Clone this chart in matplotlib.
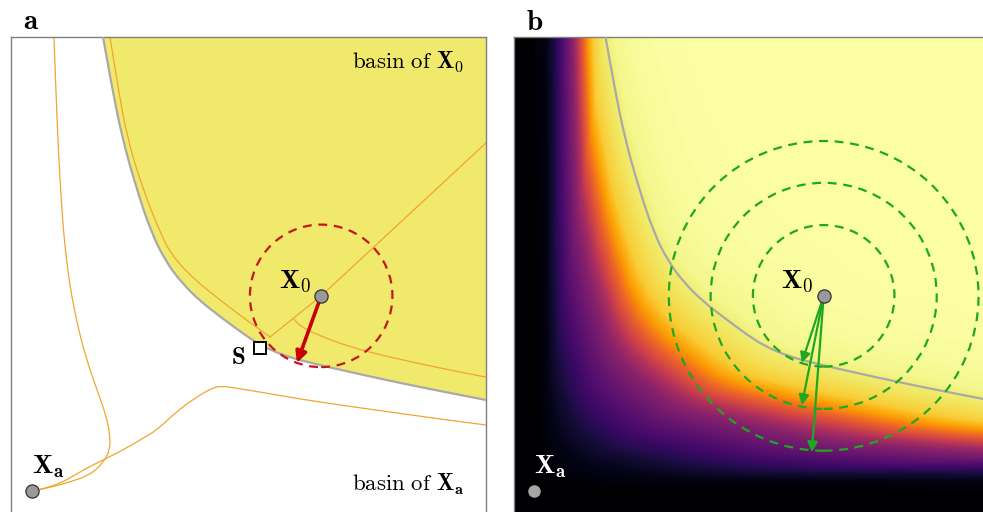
"""Basin of X0 (a) and stability landscape (b)."""
import numpy as np
import matplotlib
matplotlib.use("Agg")
import matplotlib.pyplot as plt
from matplotlib.path import Path
from matplotlib.patches import PathPatch, Circle

plt.rcParams["mathtext.fontset"] = "cm"
plt.rcParams["font.family"] = "serif"
plt.rcParams["font.serif"] = ["cmr10", "DejaVu Serif"]
plt.rcParams["axes.unicode_minus"] = False

# Attractors, saddle (phase-space units, box is 0..10).
x0 = (6.53, 4.55)
xa = (0.442, 0.442)
saddle = (5.24, 3.45)

# Basin boundary of X0 (gray curve), top edge -> right edge.
boundary_x = [1.937, 2.126, 2.337, 2.632, 2.947, 3.263, 3.6, 3.979, 4.442,
              4.926, 5.284, 5.768, 6.4, 7.137, 8.189, 9.137, 10.0]
boundary_y = [10.0, 8.947, 7.895, 6.842, 5.895, 5.263, 4.821, 4.442, 4.084,
              3.726, 3.495, 3.284, 3.116, 2.947, 2.716, 2.526, 2.358]
# Boundary continued outside the box (guessed), used for panel b.
ext_top_x = [1.85, 1.79, 1.75, 1.64]
ext_top_y = [12.02, 14.13, 17.28, 63.6]
ext_right_x = [10.97, 12.23, 14.13, 17.28, 63.6]
ext_right_y = [2.20, 2.06, 1.90, 1.72, 1.45]

# Trajectories (orange).
traj_top_x = [2.084, 2.253, 2.442, 2.758, 3.179, 3.389, 3.663, 3.979, 4.4,
              4.926, 5.284, 5.453]
traj_top_y = [10.0, 8.947, 7.895, 6.842, 5.789, 5.411, 5.095, 4.8, 4.463,
              4.063, 3.811, 3.684]
traj_diag_x = [10.0, 6.53, 5.453]
traj_diag_y = [7.77, 4.55, 3.684]
traj_right_x = [10.0, 9.03, 7.98, 7.14, 6.40, 6.08, 5.96]
traj_right_y = [2.84, 3.03, 3.26, 3.47, 3.75, 3.92, 4.06]
traj_left_x = [0.905, 0.968, 1.053, 1.158, 1.326, 1.558, 1.811, 2.0, 2.084,
               2.084, 1.937, 1.663, 1.179, 0.674, 0.442]
traj_left_y = [10.0, 8.25, 6.57, 5.31, 4.25, 3.305, 2.568, 2.042, 1.621,
               1.305, 1.032, 0.779, 0.611, 0.484, 0.442]
traj_low_x = [10.0, 9.032, 7.979, 6.926, 6.084, 5.242, 4.716, 4.442, 4.232,
              3.874, 3.474, 3.074, 2.716, 2.358, 1.937, 1.516, 1.179, 0.821,
              0.442]
traj_low_y = [1.832, 1.958, 2.105, 2.253, 2.379, 2.526, 2.611, 2.653, 2.611,
              2.4, 2.105, 1.726, 1.516, 1.305, 1.095, 0.884, 0.674, 0.526,
              0.442]

# Perturbations.
red_radius = 1.5
red_tip = (6.02, 3.14)
green_radii = [1.49, 2.38, 3.26]
green_tips = [(6.07, 3.14), (6.07, 2.25), (6.28, 1.26)]

# Colour profile of panel b against relative radius from X_a
# (1 = on the boundary).
prof_s = [0.0, 0.1, 0.2, 0.3, 0.4, 0.52, 0.60, 0.65, 0.70, 0.75, 0.80,
          0.86, 0.93, 1.0, 1.05, 1.2, 1.6]
prof_v = [0.0, 0.01, 0.04, 0.10, 0.19, 0.29, 0.37, 0.45, 0.56, 0.66, 0.78,
          0.88, 0.92, 0.95, 0.975, 0.99, 1.0]

YELLOW = "#f0e96b"
ORANGE = "#f2a531"
GRAY = "#a9a9a9"
RED = "#c4161c"
GREEN = "#1fa81f"


def smooth_path(xs, ys):
    """Quadratic Bezier path through the midpoints of a polyline."""
    pts = np.column_stack([xs, ys])
    if len(pts) < 3:
        return list(pts), [Path.MOVETO] + [Path.LINETO] * (len(pts) - 1)
    mids = (pts[:-1] + pts[1:]) / 2
    verts = [pts[0], mids[0]]
    codes = [Path.MOVETO, Path.LINETO]
    for i in range(1, len(pts) - 1):
        verts += [pts[i], mids[i]]
        codes += [Path.CURVE3, Path.CURVE3]
    verts.append(pts[-1])
    codes.append(Path.LINETO)
    return verts, codes


def draw_curve(ax, xs, ys, **kw):
    verts, codes = smooth_path(xs, ys)
    ax.add_patch(PathPatch(Path(verts, codes), fill=False, **kw))


def stability_field(n=500):
    g = (np.arange(n) + 0.5) / n * 10
    gx, gy = np.meshgrid(g, g)
    bx = np.array(ext_top_x + boundary_x + ext_right_x)
    by = np.array(ext_top_y + boundary_y + ext_right_y)
    th_b = np.arctan2(by - xa[1], bx - xa[0])
    inv_r = 1 / np.hypot(bx - xa[0], by - xa[1])
    order = np.argsort(th_b)
    th = np.arctan2(gy - xa[1], gx - xa[0])
    r = np.hypot(gx - xa[0], gy - xa[1])
    s = r * np.interp(th, th_b[order], inv_r[order])
    s[(gx < xa[0]) | (gy < xa[1])] = 0
    return np.interp(s, prof_s, prof_v)


def setup(ax):
    ax.set_xlim(0, 10)
    ax.set_ylim(0, 10)
    ax.set_xticks([])
    ax.set_yticks([])
    for side, sp in ax.spines.items():
        sp.set_color("#7f7f7f")
        sp.set_linewidth(1.0)
    ax.spines["bottom"].set_visible(False)


fig = plt.figure(figsize=(9.83, 5.12), dpi=100)
ax_a = fig.add_axes([11 / 983, 0, 475 / 983, 475 / 512])
ax_b = fig.add_axes([513.5 / 983, 0, 475 / 983, 475 / 512])

# ---- panel a
setup(ax_a)
verts, codes = smooth_path(boundary_x, boundary_y)
verts += [(10.0, 10.0), (0, 0)]
codes += [Path.LINETO, Path.CLOSEPOLY]
ax_a.add_patch(PathPatch(Path(verts, codes), facecolor=YELLOW,
                         edgecolor="none", zorder=1))
for tx, ty in [(traj_top_x, traj_top_y), (traj_right_x, traj_right_y),
               (traj_left_x, traj_left_y), (traj_low_x, traj_low_y)]:
    draw_curve(ax_a, tx, ty, edgecolor=ORANGE, lw=0.9, zorder=2)
ax_a.plot(traj_diag_x, traj_diag_y, color=ORANGE, lw=0.9, zorder=2)
draw_curve(ax_a, boundary_x, boundary_y, edgecolor=GRAY, lw=1.6, zorder=3)
ax_a.add_patch(Circle(x0, red_radius, fill=False, edgecolor=RED, lw=1.6,
                      linestyle=(0, (4, 3)), zorder=4))
ax_a.annotate("", xy=red_tip, xytext=x0, zorder=5,
              arrowprops=dict(arrowstyle="-|>", color="#c80000", lw=2.6,
                              mutation_scale=16, shrinkA=0, shrinkB=0))
ax_a.plot(*saddle, marker="s", ms=9, mfc="white", mec="black", mew=1.4,
          zorder=6)
ax_a.plot(*x0, marker="o", ms=9.5, mfc="#999999", mec="#333333", mew=0.9,
          zorder=6)
ax_a.plot(*xa, marker="o", ms=9.5, mfc="#999999", mec="#333333", mew=0.9,
          zorder=6)
ax_a.text(4.78, 3.24, r"$\mathbf{S}$", fontsize=18, ha="center",
          va="center", zorder=7)
ax_a.text(5.98, 4.85, r"$\mathbf{X_0}$", fontsize=19.5, ha="center",
          va="center", zorder=7)
ax_a.text(0.78, 0.95, r"$\mathbf{X_a}$", fontsize=19.5, ha="center",
          va="center", zorder=7)
ax_a.text(8.36, 9.47, r"$\mathrm{basin\ of}\ \mathbf{X_0}$", fontsize=16.5,
          ha="center", va="center", zorder=7)
ax_a.text(8.36, 0.57, r"$\mathrm{basin\ of}\ \mathbf{X_a}$", fontsize=16.5,
          ha="center", va="center", zorder=7)

# ---- panel b
setup(ax_b)
ax_b.imshow(stability_field(), extent=[0, 10, 0, 10], origin="lower",
            cmap="inferno", vmin=0, vmax=1, interpolation="bilinear",
            zorder=0)
draw_curve(ax_b, boundary_x, boundary_y, edgecolor=GRAY, lw=1.6, zorder=3)
for rad in green_radii:
    ax_b.add_patch(Circle(x0, rad, fill=False, edgecolor=GREEN, lw=1.6,
                          linestyle=(0, (4, 3)), zorder=4))
for tip in green_tips:
    ax_b.annotate("", xy=tip, xytext=x0, zorder=5,
                  arrowprops=dict(arrowstyle="-|>", color=GREEN, lw=1.6,
                                  mutation_scale=15, shrinkA=0, shrinkB=0))
ax_b.plot(*x0, marker="o", ms=9.5, mfc="#999999", mec="#333333", mew=0.9,
          zorder=6)
ax_b.plot(*xa, marker="o", ms=9, mfc="#a6a6a6", mec="none", zorder=6)
ax_b.text(5.97, 4.84, r"$\mathbf{X_0}$", fontsize=19.5, ha="center",
          va="center", zorder=7)
ax_b.text(0.77, 0.95, r"$\mathbf{X_a}$", fontsize=19.5, ha="center",
          va="center", color="white", zorder=7)

fig.text(31 / 983, 1 - 22 / 512, r"$\mathbf{a}$", fontsize=21, ha="center",
         va="center")
fig.text(535 / 983, 1 - 23 / 512, r"$\mathbf{b}$", fontsize=21, ha="center",
         va="center")

fig.savefig("out.png", dpi=100)
